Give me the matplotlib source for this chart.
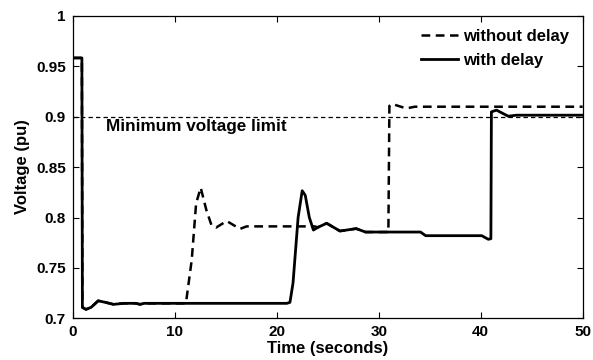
import numpy as np
import matplotlib
matplotlib.use('Agg')
import matplotlib.pyplot as plt
from matplotlib.ticker import FormatStrFormatter

# voltage traces (time in s, voltage in pu)
t_with = [0, 0.9, 0.95, 1.3, 1.8, 2.5, 3.2, 4.0, 5.0, 6.2, 6.6, 7.0, 8.0,
          21.0, 21.3, 21.6, 22.1, 22.5, 22.8, 23.2, 23.6, 24.05, 24.9,
          26.2, 27.8, 28.7, 34.1, 34.6, 40.1, 40.75, 41.0, 41.05, 41.55,
          42.7, 43.5, 50]
v_with = [0.958, 0.958, 0.711, 0.709, 0.711, 0.7175, 0.716, 0.714, 0.715,
          0.715, 0.714, 0.715, 0.715,
          0.715, 0.716, 0.735, 0.80, 0.8265, 0.822, 0.80, 0.7876, 0.7903,
          0.7943, 0.7866, 0.789, 0.7856, 0.7856, 0.782, 0.782, 0.7784,
          0.779, 0.9046, 0.9063, 0.9003, 0.9013, 0.9013]

t_without = [0, 0.9, 0.95, 1.3, 1.8, 2.5, 3.2, 4.0, 5.0, 6.2, 6.6, 7.0,
             8.0, 11.1, 11.67, 12.1, 12.55, 13.1, 13.6, 14.05, 15.1, 16.4,
             17.05, 23.7, 24.05, 24.9, 26.2, 27.8, 28.7, 30.95, 31.05,
             31.3, 32.7, 33.55, 50]
v_without = [0.958, 0.958, 0.711, 0.709, 0.711, 0.7175, 0.716, 0.714,
             0.715, 0.715, 0.714, 0.715, 0.715, 0.715, 0.758, 0.814, 0.8295,
             0.8075, 0.7926, 0.790, 0.7965, 0.7887, 0.7912, 0.7912, 0.7903,
             0.7943, 0.7866, 0.789, 0.7856, 0.7856, 0.9105, 0.9125, 0.908,
             0.9097, 0.9097]

v_limit = 0.9

plt.rcParams['font.family'] = ['Liberation Sans', 'DejaVu Sans']
plt.rcParams['font.weight'] = 'bold'
plt.rcParams['font.size'] = 12

fig = plt.figure(figsize=(5.93, 3.6), dpi=100)
ax = fig.add_axes([0.1226, 0.1153, 0.86, 0.8416])

ax.axhline(v_limit, color='black', lw=0.9, ls=(0, (3.5, 2.5)))
ax.plot(t_without, v_without, color='black', lw=1.8,
        dashes=(3.5, 2.2), label='without delay')
ax.plot(t_with, v_with, color='black', lw=2.0, label='with delay')

ax.text(3.25, 0.8905, 'Minimum voltage limit', va='center', ha='left',
        fontweight='bold', fontsize=12.3)

ax.set_xlim(0, 50)
ax.set_ylim(0.7, 1.0)
ax.set_xticks(np.arange(0, 51, 10))
ax.set_yticks(np.arange(0.7, 1.001, 0.05))
ax.yaxis.set_major_formatter(FormatStrFormatter('%g'))
ax.tick_params(direction='in', top=True, right=True, length=4,
               width=0.8, labelsize=11, pad=5)
for s in ax.spines.values():
    s.set_linewidth(0.9)

ax.set_xlabel('Time (seconds)', fontweight='bold', labelpad=1)
ax.set_ylabel('Voltage (pu)', fontweight='bold', labelpad=4)

ax.legend(loc='upper right', frameon=False, handlelength=2.2,
          handletextpad=0.35, labelspacing=0.55, fontsize=12,
          borderaxespad=0.4)

fig.savefig('out.png', dpi=100)
